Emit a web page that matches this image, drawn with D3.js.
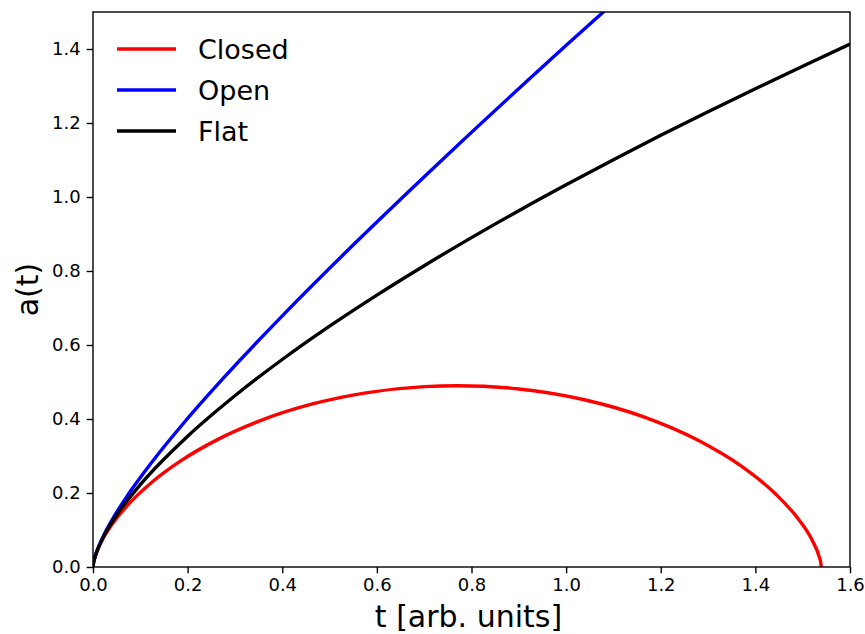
<!DOCTYPE html>
<html>
<head>
<meta charset="utf-8">
<script src="https://cdn.jsdelivr.net/npm/d3@7"></script>
<style>
  html, body { margin: 0; padding: 0; background: #fff; }
  svg { display: block; font-family: "DejaVu Sans", sans-serif; }
</style>
</head>
<body>
<svg id="chart" width="865" height="634"></svg>
<script>
// ---- data ----
const closedT = [0, 0.000041, 0.000326, 0.002593, 0.008663, 0.02025, 0.03884, 0.07375, 0.12311, 0.18767, 0.26722, 0.36062, 0.46587, 0.58024, 0.70043, 0.76969, 0.89561, 1.03631, 1.16542, 1.27796, 1.37045, 1.44120, 1.49045, 1.52036, 1.53483, 1.53846, 1.53938];
const closedA = [0, 0.00122, 0.004884, 0.01934, 0.04279, 0.07431, 0.11263, 0.16775, 0.22767, 0.28867, 0.34696, 0.39890, 0.44128, 0.47145, 0.48755, 0.49, 0.48187, 0.45278, 0.40514, 0.34320, 0.27248, 0.19930, 0.13021, 0.07138, 0.02805, 0.00976, 0];

const openT = [0, 0.000041, 0.000327, 0.002634, 0.008980, 0.021586, 0.042924, 0.075818, 0.123554, 0.190014, 0.279833, 0.398581, 0.552991, 0.751226, 1.003209, 1.234641];
const openA = [0, 0.001225, 0.004916, 0.019863, 0.045439, 0.082672, 0.133055, 0.198611, 0.281970, 0.386479, 0.516331, 0.676738, 0.874137, 1.116452, 1.413406, 1.679054];

const flatT = [0, 0.0001, 0.001, 0.005, 0.02, 0.05, 0.1, 0.2, 0.3, 0.4, 0.5, 0.6, 0.7, 0.8, 0.9, 1.0, 1.1, 1.2, 1.3, 1.4, 1.5, 1.6];
const flatA = [0, 0.00223, 0.0103, 0.0302, 0.0761, 0.1402, 0.2225, 0.3533, 0.4629, 0.5608, 0.6508, 0.7349, 0.8144, 0.8902, 0.9630, 1.033, 1.1008, 1.1666, 1.2304, 1.2928, 1.3536, 1.4131];

const seriesNames = ["Closed", "Open", "Flat"];
const seriesColors = ["#ff0000", "#0000ff", "#000000"];

const xTicks = [0, 0.2, 0.4, 0.6, 0.8, 1.0, 1.2, 1.4, 1.6];
const yTicks = [0, 0.2, 0.4, 0.6, 0.8, 1.0, 1.2, 1.4];
const xLabel = "t [arb. units]";
const yLabel = "a(t)";

// ---- layout ----
const L = 93, R = 850, T = 12, B = 567;
const svg = d3.select("#chart");

const x = d3.scaleLinear().domain([0, 1.6]).range([L, R]);
const y = d3.scaleLinear().domain([0, 1.5]).range([B, T]);

svg.append("defs").append("clipPath").attr("id", "clip")
  .append("rect").attr("x", L).attr("y", T).attr("width", R - L).attr("height", B - T);

const seriesData = [
  closedT.map((t, i) => [t, closedA[i]]),
  openT.map((t, i) => [t, openA[i]]),
  flatT.map((t, i) => [t, flatA[i]])
];

const line = d3.line()
  .x(d => x(d[0])).y(d => y(d[1]))
  .curve(d3.curveMonotoneX);

const plot = svg.append("g").attr("clip-path", "url(#clip)");
seriesData.forEach((s, i) => {
  plot.append("path")
    .datum(s)
    .attr("fill", "none")
    .attr("stroke", seriesColors[i])
    .attr("stroke-width", 3.4)
    .attr("stroke-linejoin", "round")
    .attr("d", line);
});

// axes
const fmt = d3.format(".1f");
const xAxis = d3.axisBottom(x).tickValues(xTicks).tickFormat(fmt).tickSize(6.3).tickPadding(5);
const yAxis = d3.axisLeft(y).tickValues(yTicks).tickFormat(fmt).tickSize(6.3).tickPadding(6);

const gx = svg.append("g").attr("transform", `translate(0,${B})`).call(xAxis);
const gy = svg.append("g").attr("transform", `translate(${L},0)`).call(yAxis);
[gx, gy].forEach(g => {
  g.select(".domain").remove();
  g.selectAll(".tick line").attr("stroke", "#000").attr("stroke-width", 1.4);
  g.selectAll(".tick text").attr("fill", "#000").attr("font-size", 18)
    .attr("font-family", "DejaVu Sans, sans-serif");
});

// frame
svg.append("rect").attr("x", L).attr("y", T).attr("width", R - L).attr("height", B - T)
  .attr("fill", "none").attr("stroke", "#000").attr("stroke-width", 1.4);

// axis labels
svg.append("text").attr("x", (L + R) / 2 - 3).attr("y", 627)
  .attr("text-anchor", "middle").attr("font-size", 30).attr("fill", "#000").text(xLabel);
svg.append("text").attr("transform", `translate(37.5,${(T + B) / 2}) rotate(-90)`)
  .attr("text-anchor", "middle").attr("font-size", 30).attr("fill", "#000").text(yLabel);

// legend
const legY0 = 49, legDY = 41;
seriesNames.forEach((name, i) => {
  const ly = legY0 + i * legDY;
  svg.append("line").attr("x1", 117).attr("x2", 176).attr("y1", ly).attr("y2", ly)
    .attr("stroke", seriesColors[i]).attr("stroke-width", 3.4);
  svg.append("text").attr("x", 198).attr("y", ly + 10)
    .attr("font-size", 27).attr("fill", "#000").text(name);
});
</script>
</body>
</html>
